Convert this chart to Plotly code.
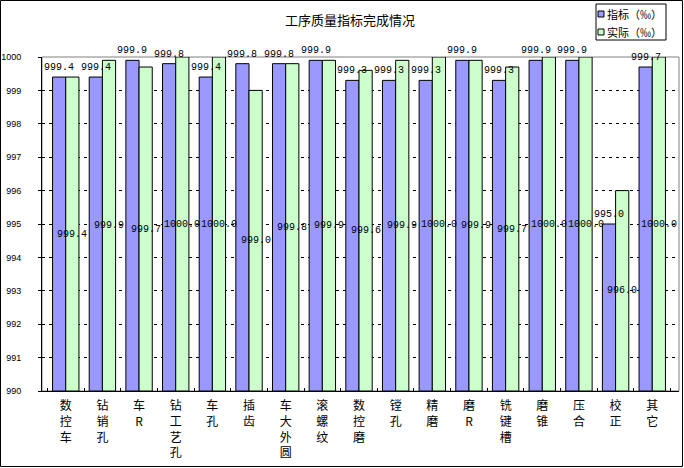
import plotly.graph_objects as go

categories = ['数<br>控<br>车', '钻<br>销<br>孔', '车<br>R', '钻<br>工<br>艺<br>孔', '车<br>孔', '插<br>齿',
              '车<br>大<br>外<br>圆', '滚<br>螺<br>纹', '数<br>控<br>磨', '镗<br>孔', '精<br>磨', '磨<br>R',
              '铣<br>键<br>槽', '磨<br>锥', '压<br>合', '校<br>正', '其<br>它']
target = [999.4, 999.4, 999.9, 999.8, 999.4, 999.8, 999.8, 999.9, 999.3, 999.3, 999.3, 999.9,
          999.3, 999.9, 999.9, 995.0, 999.7]
actual = [999.4, 999.9, 999.7, 1000.0, 1000.0, 999.0, 999.8, 999.9, 999.6, 999.9, 1000.0, 999.9,
          999.7, 1000.0, 1000.0, 996.0, 1000.0]
names = ['指标（‰）', '实际（‰）']
colors = ['#9999FF', '#CCFFCC']

BASE = 990
L, R, T, B = 42, 5, 57, 77
W, H = 684, 468
pw, ph = W - L - R, H - T - B

def px(x):
    return (x - L) / pw

def py(y):
    return (H - B - y) / ph

fig = go.Figure()
for vals, col in zip([target, actual], colors):
    fig.add_trace(go.Bar(x=categories, y=[v - BASE for v in vals], base=BASE,
                         marker=dict(color=col, line=dict(color='black', width=1)),
                         showlegend=False, hoverinfo='skip'))

# data labels (drawn as annotations so they sit on top of every bar)
off = 0.18 * pw / len(categories)
lab_font = dict(family='Liberation Mono', size=10, color='black')
ann = []
for c, t, a in zip(categories, target, actual):
    ann.append(dict(x=c, y=t, text='%.1f' % t, showarrow=False, xshift=-off, yshift=2,
                    yanchor='bottom', font=lab_font))
    ann.append(dict(x=c, y=(BASE + a) / 2, text='%.1f' % a, showarrow=False, xshift=off,
                    yanchor='middle', font=lab_font))

# legend box
leg_font = dict(family='Noto Sans CJK SC', size=11, color='black')
for yy, nm in zip([14, 32], names):
    ann.append(dict(xref='paper', yref='paper', x=px(605), y=py(yy), text=nm, showarrow=False,
                    xanchor='left', yanchor='middle', font=leg_font))

shapes = [
    dict(type='rect', xref='paper', yref='paper', x0=0, x1=1, y0=0, y1=1,
         line=dict(color='#808080', width=1), layer='below'),
    dict(type='rect', xref='paper', yref='paper', x0=px(0.5), x1=px(W - 1.5), y0=py(H - 1.5), y1=py(0.5),
         line=dict(color='black', width=1)),
    dict(type='rect', xref='paper', yref='paper', x0=px(596), x1=px(666), y0=py(40), y1=py(4),
         line=dict(color='black', width=1), fillcolor='white'),
]
for yy, col in zip([14, 32], colors):
    shapes.append(dict(type='rect', xref='paper', yref='paper', x0=px(598), x1=px(604),
                       y0=py(yy + 3), y1=py(yy - 3), line=dict(color='black', width=1), fillcolor=col))

fig.update_layout(
    width=W, height=H,
    margin=dict(l=L, r=R, t=T, b=B, autoexpand=False),
    paper_bgcolor='white', plot_bgcolor='white',
    barmode='group', bargap=0.28, bargroupgap=0,
    title=dict(text='工序质量指标完成情况', x=px(368), xanchor='center', y=1 - 20 / H, yanchor='middle',
               font=dict(family='Noto Sans CJK SC', size=13, color='black')),
    annotations=ann, shapes=shapes,
    font=dict(family='Noto Sans CJK SC', color='black'),
)
fig.update_xaxes(type='category', showline=True, linecolor='black', linewidth=1, automargin=False,
                 ticks='inside', tickson='boundaries', ticklen=3, tickcolor='black',
                 tickfont=dict(family='Noto Sans CJK SC', size=12), ticklabelstandoff=4,
                 showgrid=False, fixedrange=True)
fig.update_yaxes(range=[990, 1000], dtick=1, showline=True, linecolor='black', linewidth=1,
                 automargin=False, ticks='outside', ticklen=3, tickcolor='black',
                 tickfont=dict(family='Liberation Sans', size=9), ticklabelstandoff=15,
                 showgrid=True, gridcolor='black', gridwidth=1, griddash='3px,4px',
                 zeroline=False, fixedrange=True)

# drop the default page margin so the chart sits at the window's corner
fig.write_html("out.html", config={'displayModeBar': False},
               post_script="document.body.style.margin='0';")
